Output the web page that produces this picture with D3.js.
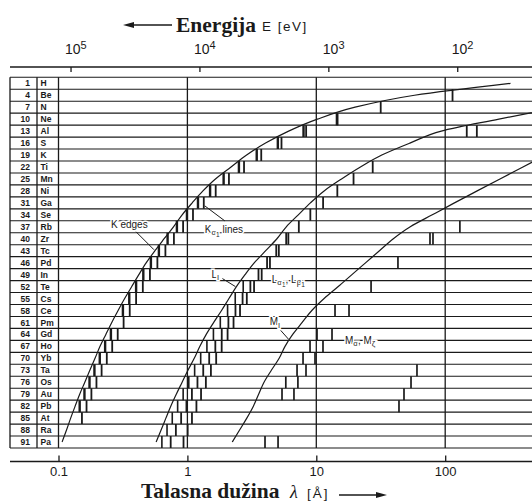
<!DOCTYPE html>
<html>
<head>
<meta charset="utf-8">
<script src="https://cdn.jsdelivr.net/npm/d3@7"></script>
<style>
body { margin: 0; background: #fff; }
</style>
</head>
<body>
<svg id="chart" width="532" height="502" font-family="'Liberation Sans', Arial, sans-serif"></svg>
<script>
// one table row per element
var elemZ = [1, 4, 7, 10, 13, 16, 19, 22, 25, 28, 31, 34, 37, 40, 43, 46, 49, 52, 55, 58, 61, 64, 67, 70, 73, 76, 79, 82, 85, 88, 91];
var elemSym = ['H', 'Be', 'N', 'Ne', 'Al', 'S', 'K', 'Ti', 'Mn', 'Ni', 'Ga', 'Se', 'Rb', 'Zr', 'Tc', 'Pd', 'In', 'Te', 'Cs', 'Ce', 'Pm', 'Gd', 'Ho', 'Yb', 'Ta', 'Os', 'Au', 'Pb', 'At', 'Ra', 'Pa'];

// absorption edge curves, wavelength in Angstrom (row by row)
var kEdge = [321, 57.8, 20.0, 10.2, 6.1, 4.04, 2.88, 2.18, 1.65, 1.32, 1.09, 0.91, 0.78, 0.66, 0.56, 0.48, 0.42, 0.37, 0.326, 0.29, 0.259, 0.233, 0.21, 0.192, 0.175, 0.16, 0.146, 0.1346, 0.1243, 0.1154, 0.1066];
var lEdge = [null, null, 764, 261, 93.3, 53.2, 32.2, 22.0, 15.7, 11.5, 9.0, 7.25, 5.85, 4.95, 4.05, 3.31, 2.80, 2.40, 2.10, 1.84, 1.60, 1.40, 1.25, 1.13, 1.01, 0.91, 0.82, 0.743, 0.681, 0.625, 0.572];
var mEdge = [null, null, null, null, null, null, 602, 401, 266, 177, 118, 79.4, 53.6, 39.6, 30.9, 24.2, 18.9, 14.8, 11.5, 9.23, 7.77, 6.56, 5.72, 5.15, 4.48, 3.93, 3.57, 3.25, 2.89, 2.54, 2.23];

// emission lines, wavelength in Angstrom
var kAlpha = [null, 114, 31.6, 14.61, 8.34, 5.37, 3.74, 2.75, 2.10, 1.658, 1.340, 1.105, 0.926, 0.786, 0.675, 0.585, 0.512, 0.451, 0.400, 0.357, 0.320, 0.288, 0.261, 0.237, 0.216, 0.197, 0.180, 0.165, 0.152, null, null];
var kBeta = [null, null, null, 14.45, 7.96, 5.03, 3.45, 2.51, 1.91, 1.50, 1.208, 0.992, 0.829, 0.702, 0.601, 0.521, 0.455, 0.400, 0.354, 0.316, null, 0.255, 0.230, 0.209, 0.190, 0.174, 0.159, 0.146, null, null, null];
var lAlpha = [null, null, null, null, 176, null, null, 27.4, 19.45, 14.56, 11.29, 8.99, 7.32, 6.07, 5.12, 4.37, 3.77, 3.29, 2.89, 2.56, 2.28, 2.05, 1.845, 1.672, 1.522, 1.391, 1.276, 1.175, 1.085, 1.005, 0.933];
var lBeta = [null, null, null, null, 147, null, null, null, null, null, null, null, null, 5.84, 4.89, 4.15, 3.56, 3.08, 2.68, 2.36, 2.08, 1.847, 1.647, 1.476, 1.327, 1.197, 1.084, 0.983, 0.894, 0.814, 0.742];
var lGamma = [null, null, null, null, null, null, null, null, null, null, null, null, null, null, null, null, null, 2.71, 2.35, 2.05, 1.80, 1.592, 1.417, 1.268, 1.138, 1.025, 0.927, 0.840, 0.763, 0.695, 0.634];
var mAlpha = [null, null, null, null, null, null, null, null, null, null, null, null, 130, 76.2, null, 43.0, null, 26.6, null, 13.97, null, 10.13, 8.94, 7.89, 7.09, 5.8, 5.42, null, null, null, 4.0];
var mZeta = [null, null, null, null, null, null, null, null, null, null, null, null, null, 80.4, null, null, null, null, null, 17.94, null, 13.24, 11.27, 9.77, 8.32, 7.2, 6.71, null, null, null, 5.05];
var nLine = [null, null, null, null, null, null, null, null, null, null, null, null, null, null, null, null, null, null, null, null, null, null, null, null, 60.4, 54.3, 47.9, 43.8, null, null, null];

var decades = [0.1, 1, 10, 100];
var energyTicks = [1e5, 1e4, 1e3, 1e2];

var svg = d3.select('#chart');
var ink = '#1a1a1a';
var serif = '"Liberation Serif", "Times New Roman", serif';

var x = d3.scaleLog().domain([0.1, 100]).range([58.5, 445.2]);
// E = hc / lambda, so the energy axis is the same log scale run backwards
var eV = d3.scaleLog().domain([12398.4 / 0.1, 12398.4 / 100]).range([58.5, 445.2]);
var y = d3.scaleBand().domain(elemZ).range([77.3, 448]);
var rowMid = function(i) { return y(elemZ[i]) + y.bandwidth() / 2; };

svg.append('clipPath').attr('id', 'plot')
  .append('rect').attr('x', 58.5).attr('y', 77.3).attr('width', 473.5).attr('height', 370.7);

//row lines across table and plot
var rowEdges = elemZ.map(function(z) { return y(z); }).concat([448]);
svg.selectAll('.row').data(rowEdges).enter()
  .append('line').attr('class', 'row')
  .attr('x1', 10).attr('x2', 532)
  .attr('y1', function(d) { return d; }).attr('y2', function(d) { return d; })
  .attr('stroke', ink).attr('stroke-width', 1.1);

// table frame
svg.selectAll('.col').data([10, 37, 58.5]).enter()
  .append('line').attr('class', 'col')
  .attr('x1', function(d) { return d; }).attr('x2', function(d) { return d; })
  .attr('y1', 77.3).attr('y2', 448)
  .attr('stroke', ink).attr('stroke-width', 1.3);

// decade grid
svg.selectAll('.grid').data([1, 10, 100]).enter()
  .append('line').attr('class', 'grid')
  .attr('x1', function(d) { return x(d); }).attr('x2', function(d) { return x(d); })
  .attr('y1', 77.3).attr('y2', 448)
  .attr('stroke', ink).attr('stroke-width', 1.3);

// element labels
svg.selectAll('.num').data(elemZ).enter()
  .append('text').attr('class', 'num')
  .attr('x', 30).attr('y', function(d) { return y(d) + y.bandwidth() / 2; })
  .attr('dy', '0.36em').attr('text-anchor', 'end').attr('fill', ink)
  .attr('font-size', 8.5).attr('font-weight', 'bold')
  .text(function(d) { return d; });
svg.selectAll('.sym').data(elemSym).enter()
  .append('text').attr('class', 'sym')
  .attr('x', 40.5).attr('y', function(d, i) { return rowMid(i); })
  .attr('dy', '0.36em').attr('fill', ink)
  .attr('font-size', 8.5).attr('font-weight', 'bold')
  .text(function(d) { return d; });

var plot = svg.append('g').attr('clip-path', 'url(#plot)');

// emission line bars
var bars = [];
[[kAlpha, 1.8], [kBeta, 2.4], [lAlpha, 1.8], [lBeta, 1.8], [lGamma, 1.6],
 [mAlpha, 1.7], [mZeta, 1.7], [nLine, 1.7]].forEach(function(s) {
  s[0].forEach(function(v, i) { if (v != null) bars.push({ i: i, v: v, w: s[1] }); });
});
plot.selectAll('.bar').data(bars).enter()
  .append('line').attr('class', 'bar')
  .attr('x1', function(d) { return x(d.v); }).attr('x2', function(d) { return x(d.v); })
  .attr('y1', function(d) { return y(elemZ[d.i]); })
  .attr('y2', function(d) { return y(elemZ[d.i]) + y.bandwidth(); })
  .attr('stroke', ink).attr('stroke-width', function(d) { return d.w; });

// edge curves
var edgeLine = d3.line()
  .x(function(d) { return x(d.v); })
  .y(function(d) { return rowMid(d.i); })
  .curve(d3.curveMonotoneY);
[kEdge, lEdge, mEdge].forEach(function(s) {
  var pts = [];
  s.forEach(function(v, i) { if (v != null) pts.push({ i: i, v: v }); });
  plot.append('path').datum(pts)
    .attr('d', edgeLine)
    .attr('fill', 'none').attr('stroke', ink).attr('stroke-width', 1.2);
});

// axes
var topAxis = svg.append('g').attr('transform', 'translate(0,67)')
  .call(d3.axisTop(eV).tickValues(energyTicks).tickSize(-5).tickPadding(13)
    .tickFormat(function() { return '10'; }));
topAxis.attr('font-family', null);
topAxis.select('.domain').remove();
topAxis.selectAll('.tick line').attr('stroke', ink).attr('stroke-width', 1.3);
topAxis.selectAll('.tick text')
  .attr('text-anchor', 'start').attr('x', -6).attr('font-size', 14).attr('fill', ink)
  .append('tspan').attr('dy', -5).attr('font-size', 11)
  .text(function(d) { return Math.round(Math.log10(d)); });

var botAxis = svg.append('g').attr('transform', 'translate(0,461.5)')
  .call(d3.axisBottom(x).tickValues(decades).tickSize(-6).tickPadding(5)
    .tickFormat(function(d) { return d < 1 ? '0.1' : d; }));
botAxis.attr('font-family', null);
botAxis.select('.domain').remove();
botAxis.selectAll('.tick line').attr('stroke', ink).attr('stroke-width', 1.3);
botAxis.selectAll('.tick text').attr('font-size', 13).attr('fill', ink);

svg.selectAll('.axisline').data([67, 461.5]).enter()
  .append('line').attr('class', 'axisline')
  .attr('x1', 10).attr('x2', 532)
  .attr('y1', function(d) { return d; }).attr('y2', function(d) { return d; })
  .attr('stroke', ink).attr('stroke-width', 1.4);

// titles
svg.append('line').attr('x1', 130).attr('x2', 172).attr('y1', 25).attr('y2', 25)
  .attr('stroke', ink).attr('stroke-width', 1.4);
svg.append('path').attr('d', 'M123,25L134,22L134,28Z').attr('fill', ink);
svg.append('text').attr('x', 176).attr('y', 32).attr('fill', ink)
  .attr('font-family', serif)
  .attr('font-weight', 'bold').attr('font-size', 21.5).text('Energija');
svg.append('text').attr('x', 262).attr('y', 31).attr('fill', ink)
  .attr('font-size', 13.5).attr('letter-spacing', 1.5).text('E [eV]');

svg.append('text').attr('x', 141).attr('y', 497.5).attr('fill', ink)
  .attr('font-family', serif)
  .attr('font-weight', 'bold').attr('font-size', 21.5).text('Talasna dužina');
svg.append('text').attr('x', 290).attr('y', 497.5).attr('fill', ink)
  .attr('font-family', serif)
  .attr('font-style', 'italic').attr('font-size', 18).text('λ');
svg.append('text').attr('x', 307).attr('y', 497.5).attr('fill', ink)
  .attr('font-size', 13.5).attr('letter-spacing', 2).text('[Å]');
svg.append('line').attr('x1', 339).attr('x2', 380).attr('y1', 495).attr('y2', 495)
  .attr('stroke', ink).attr('stroke-width', 1.4);
svg.append('path').attr('d', 'M387,495L376,492L376,498Z').attr('fill', ink);

// curve annotations
function note(px, py, parts) {
  var t = svg.append('text').attr('x', px).attr('y', py).attr('font-size', 10).attr('fill', ink)
    .attr('stroke', '#fff').attr('stroke-width', 3).attr('paint-order', 'stroke');
  parts.forEach(function(p) {
    t.append('tspan').attr('dy', p[1] || 0).attr('font-size', p[2] || 10).text(p[0]);
  });
  return t;
}
function leader(x1, y1, x2, y2) {
  svg.append('line').attr('x1', x1).attr('y1', y1).attr('x2', x2).attr('y2', y2)
    .attr('stroke', ink).attr('stroke-width', 1);
}

var kx = x(kEdge[14]), ky = rowMid(14);
leader(kx - 19, ky - 19, kx - 1, ky - 1);
note(kx - 44, ky - 23, [['K edges']]);

var ax = x(kAlpha[10]), ay = rowMid(10);
leader(ax + 21, ay + 18, ax + 1, ay + 3);
note(ax + 1, ay + 30, [['K'], ['α', 2.5, 8], ['1', 2, 6.5], [' lines', -4.5, 10]]);

var lx = x(lEdge[17]), ly = rowMid(17);
leader(lx - 14, ly - 8, lx - 1, ly);
note(lx - 25, ly - 9, [['L'], ['I', 2.5, 7.5]]);

var lax = x(lAlpha[16]), lay = rowMid(16);
note(lax + 10, lay + 8, [['L'], ['α', 2.5, 8], ['1', 2, 6.5], [', L', -4.5, 10], ['β', 2.5, 8], ['1', 2, 6.5]]);

var mx = x(mEdge[21]), my = rowMid(21);
leader(mx - 12, my - 4, mx - 4, my + 5);
note(mx - 23, my - 9, [['M'], ['I', 2.5, 7.5]]);

var zx = x(mZeta[21]), zy = y(elemZ[21]) + y.bandwidth();
note(zx + 13, zy + 3.5, [['M'], ['α', 2.5, 8], [', M', -2.5, 10], ['ζ', 2.5, 8]]);
</script>
</body>
</html>
